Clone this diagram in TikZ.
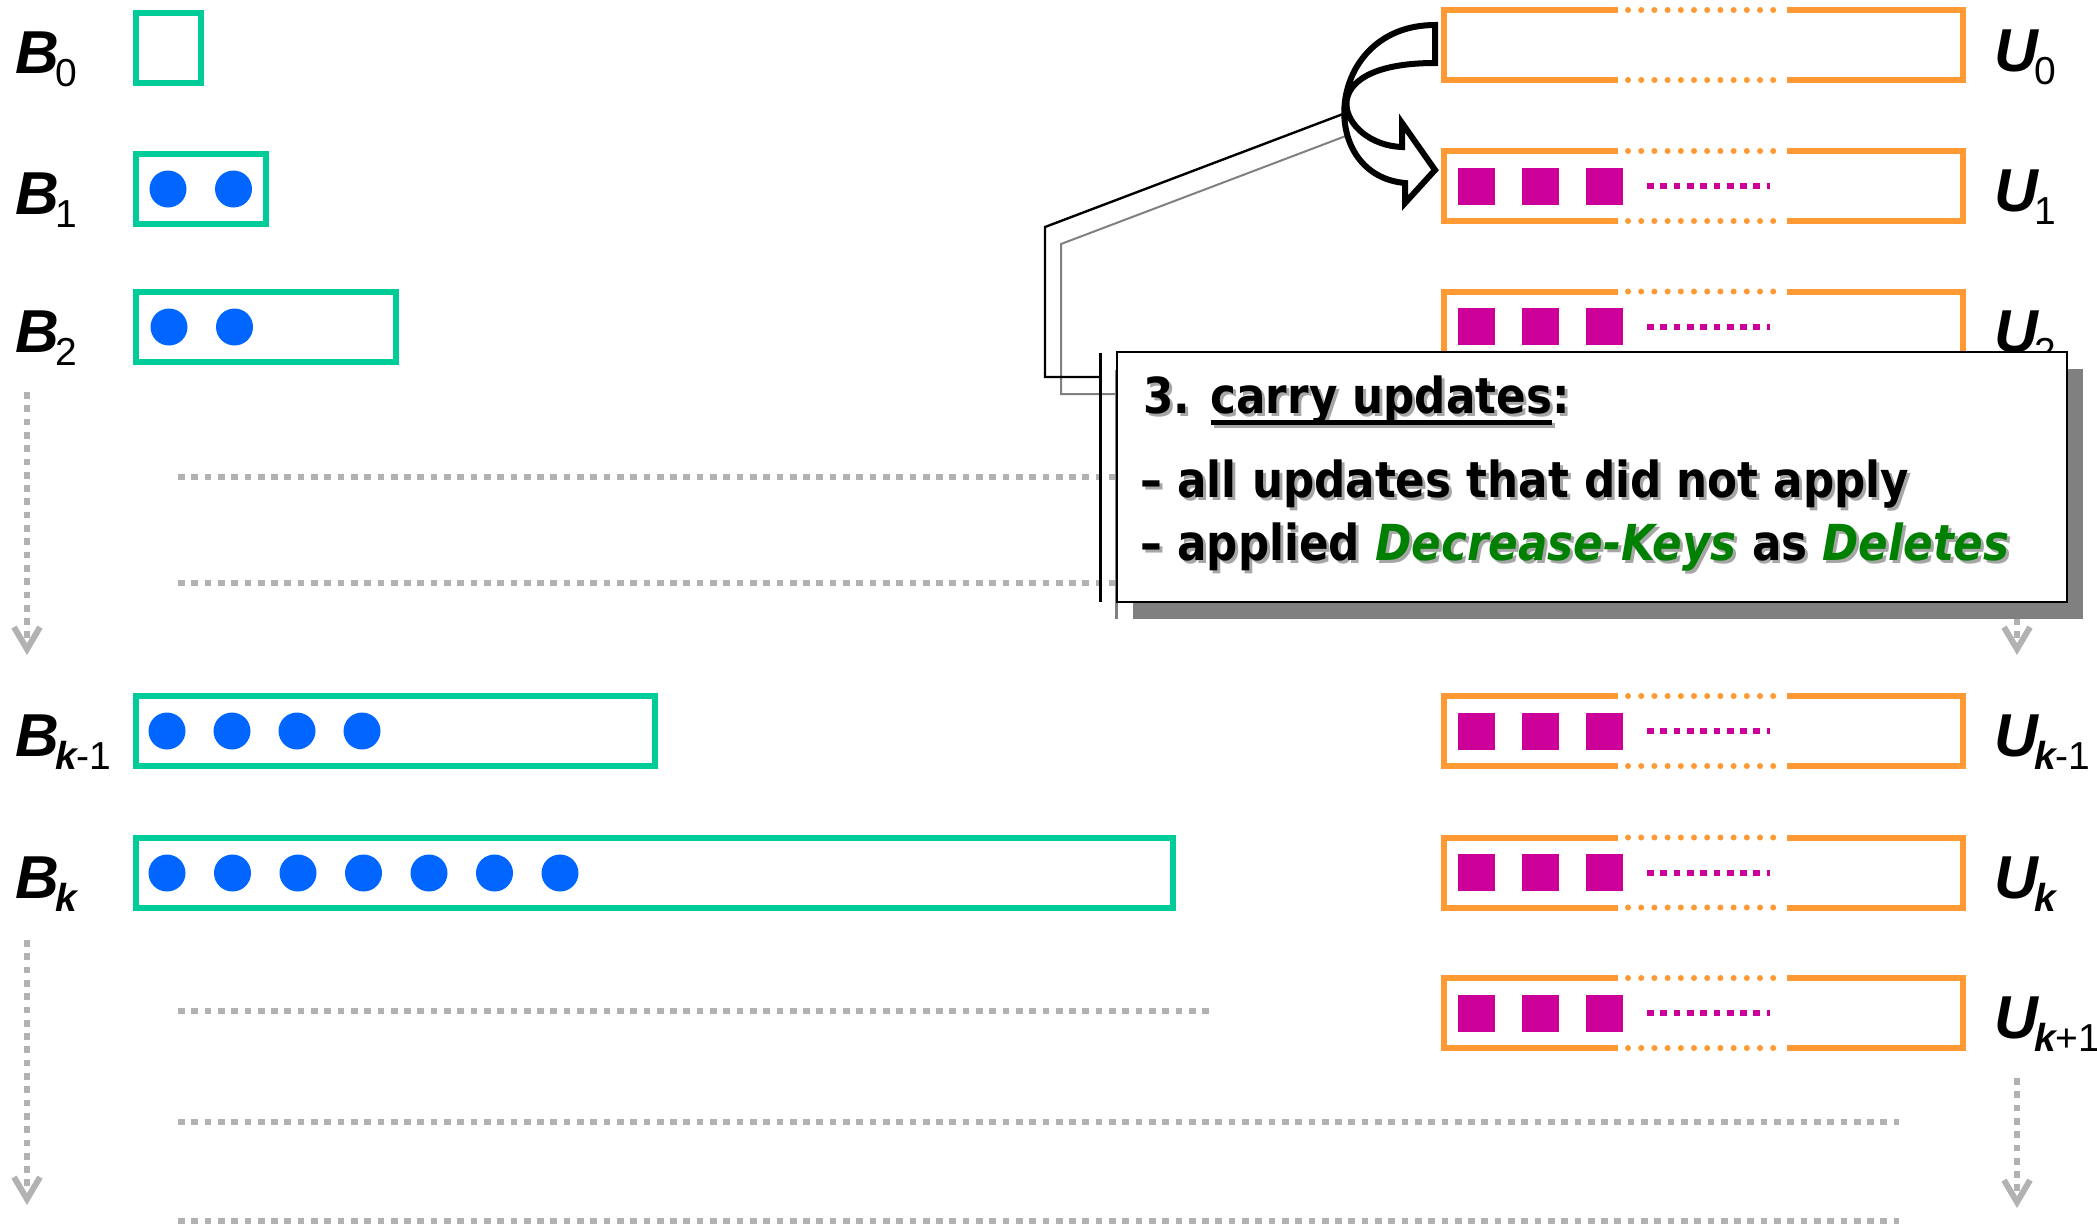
\documentclass[tikz,border=0pt]{standalone}
\usepackage{fontspec}
\usetikzlibrary{arrows.meta,calc}
\newfontfamily\lfont{Liberation Sans}
\newfontfamily\cfont[FakeStretch=0.88]{DejaVu Sans}
\definecolor{bgreen}{HTML}{00CC99}
\definecolor{bblue}{HTML}{0066FF}
\definecolor{uorange}{HTML}{FF9933}
\definecolor{umag}{HTML}{CC0099}
\definecolor{dgray}{HTML}{B2B2B2}
\definecolor{shgray}{HTML}{808080}
\definecolor{kgreen}{HTML}{008000}
\definecolor{tshadow}{HTML}{A6A6A6}
\newcommand\lblsub[1]{\kern-2pt\raisebox{-6.5pt}{\fontsize{19.5}{20}\selectfont\mdseries\upshape #1}}
\newcommand\kwcolor{\color{kgreen}}
\newcommand\kw[1]{{\itshape\kwcolor #1}}
\newcommand\cul[1]{\setbox0\hbox{#1}\rlap{\rule[-6pt]{\wd0}{2.5pt}}\box0}
\newcommand\shad[1]{\rlap{\kern1.5pt\raisebox{-1.5pt}{\color{tshadow}\def\kwcolor{}#1}}{#1}}
\tikzset{
  bbox/.style={draw=bgreen,line width=2.75pt,inner sep=0pt,outer sep=0pt,minimum height=35pt},
  bdot/.style={circle,fill=bblue,inner sep=0pt,minimum size=18.5pt},
  ubox/.style={inner sep=0pt,outer sep=0pt,minimum width=259.5pt,minimum height=35pt},
  uline/.style={draw=uorange,line width=3pt},
  udots/.style={draw=uorange,line width=3pt,line cap=round,dash pattern=on 0pt off 6.6pt},
  usq/.style={fill=umag,inner sep=0pt,minimum size=18.5pt},
  mdots/.style={draw=umag,line width=3pt,dash pattern=on 3.35pt off 3.3pt},
  gdots/.style={draw=dgray,line width=3pt,dash pattern=on 3.35pt off 3.3pt},
  garrow/.style={gdots,-{Straight Barb[length=11pt,width=13pt]}},
  lbl/.style={anchor=base west,inner sep=0pt,font=\lfont\bfseries\itshape\fontsize{30.3}{32}\selectfont},
  ctext/.style={anchor=base west,inner sep=0pt,font=\cfont\bfseries\fontsize{24.8}{30}\selectfont},
}
\newcommand\urow[2]{%
  \node[ubox] (#1) at (1703.5,#2) {};
  \draw[uline] ([xshift=87pt]#1.north west) -- (#1.north west) -- (#1.south west) -- ([xshift=87pt]#1.south west);
  \draw[uline] ([xshift=-88pt]#1.north east) -- (#1.north east) -- (#1.south east) -- ([xshift=-88pt]#1.south east);
  \draw[udots] ([xshift=92pt]#1.north west) -- ([xshift=-90.5pt]#1.north east);
  \draw[udots] ([xshift=92pt]#1.south west) -- ([xshift=-90.5pt]#1.south east);
}
\newcommand\uitems[1]{%
  \node[usq] (#1a) at ([xshift=16.25pt]#1.west) {};
  \node[usq] (#1b) at ([xshift=48.25pt]#1.west) {};
  \node[usq] (#1c) at ([xshift=80.25pt]#1.west) {};
  \draw[mdots] ([xshift=101.5pt]#1.west) -- ([xshift=163pt]#1.west);
}
\begin{document}
\begin{tikzpicture}[x=0.5pt,y=-0.5pt]
\useasboundingbox (0,0) rectangle (2097,1228);
% background dotted lines and arrows
\coordinate (h1s) at (178,477); \coordinate (h1e) at (1899,477);
\coordinate (h2s) at (178,583); \coordinate (h2e) at (1899,583);
\coordinate (h3s) at (178,1011); \coordinate (h3e) at (1212,1011);
\coordinate (h4s) at (178,1122); \coordinate (h4e) at (1899,1122);
\coordinate (h5s) at (178,1221); \coordinate (h5e) at (1899,1221);
\foreach \i in {1,...,5} \draw[gdots] (h\i s) -- (h\i e);
\coordinate (la1s) at (27,392); \coordinate (la1e) at (27,655);
\coordinate (la2s) at (27,940); \coordinate (la2e) at (27,1205);
\coordinate (ra1s) at (2017,392); \coordinate (ra1e) at (2017,655);
\coordinate (ra2s) at (2017,1078); \coordinate (ra2e) at (2017,1208);
\draw[garrow] (la1s) -- (la1e);
\draw[garrow] (la2s) -- (la2e);
\draw[garrow] (ra1s) -- (ra1e);
\draw[garrow] (ra2s) -- (ra2e);
% B boxes
\node[bbox,minimum width=32.5pt] (B0) at (168.5,48) {};
\node[bbox,minimum width=65pt] (B1) at (201,189) {};
\node[bbox,minimum width=130pt] (B2) at (266,327) {};
\node[bbox,minimum width=259.5pt] (Bk1) at (395.5,731) {};
\node[bbox,minimum width=518.5pt] (Bk) at (654.5,873) {};
\foreach \j in {0,1} \node[bdot] (b1\j) at (168+65.5*\j,189) {};
\foreach \j in {0,1} \node[bdot] (b2\j) at (169+65.5*\j,327) {};
\foreach \j in {0,...,3} \node[bdot] (bk1\j) at (167+65*\j,731) {};
\foreach \j in {0,...,6} \node[bdot] (bk\j) at (167+65.5*\j,873) {};
% B labels
\node[lbl] (lB0) at (15,73) {B\lblsub{0}};
\node[lbl] (lB1) at (15,214) {B\lblsub{1}};
\node[lbl] (lB2) at (15,352) {B\lblsub{2}};
\node[lbl] (lBk1) at (15,756) {B\lblsub{{\bfseries\itshape k}-1}};
\node[lbl] (lBk) at (15,898) {B\lblsub{\bfseries\itshape k}};
% U boxes
\urow{U0}{45}
\urow{U1}{186}
\urow{U2}{326.5}
\urow{Uk1}{731}
\urow{Uk}{872.5}
\urow{Ukp}{1013}
\uitems{U1}
\uitems{U2}
\uitems{Uk1}
\uitems{Uk}
\uitems{Ukp}
% U labels
\node[lbl] (lU0) at (1994,71) {U\lblsub{0}};
\node[lbl] (lU1) at (1994,211) {U\lblsub{1}};
\node[lbl] (lU2) at (1994,352) {U\lblsub{2}};
\node[lbl] (lUk1) at (1994,756) {U\lblsub{{\bfseries\itshape k}-1}};
\node[lbl] (lUk) at (1994,898) {U\lblsub{\bfseries\itshape k}};
\node[lbl] (lUkp) at (1994,1038) {U\lblsub{{\bfseries\itshape k}+1}};
% callout shadow
\coordinate (sp1) at (1359,131); \coordinate (sp2) at (1061,244);
\coordinate (sp3) at (1061,394); \coordinate (sp4) at (1116,394);
\coordinate (sb1) at (1116,370); \coordinate (sb2) at (1116,619);
\fill[shgray] (1133,369) rectangle (2083,619);
\draw[shgray,line width=1pt] (sp1) -- (sp2) -- (sp3) -- (sp4);
\draw[shgray,line width=1.5pt] (sb1) -- (sb2);
% callout
\coordinate (cp1) at (1343,114); \coordinate (cp2) at (1045,227);
\coordinate (cp3) at (1045,377); \coordinate (cp4) at (1100,377);
\coordinate (cb1) at (1100,353); \coordinate (cb2) at (1100,602);
\draw[black,line width=1.2pt] (cp1) -- (cp2) -- (cp3) -- (cp4);
\draw[black,line width=1.5pt] (cb1) -- (cb2);
\node[draw=black,fill=white,line width=1.25pt,inner sep=0pt,minimum width=475pt,minimum height=125pt] (callout) at (1592,477) {};
\node[ctext] (t1) at (1143,413) {\shad{3. \cul{carry updates}:}};
\node[ctext] (t2) at (1140,497) {\shad{– all updates that did not apply}};
\node[ctext] (t3) at (1140,560) {\shad{– applied \kw{Decrease-Keys} as \kw{Deletes}}};
% curved arrow from U0 to U1
\draw[black,line width=3pt,fill=white,line join=miter]
  (1435,25) .. controls (1325,25) and (1315,175) .. (1405,183)
  -- (1405,203) -- (1435,170) -- (1402,123) -- (1402,147)
  .. controls (1340,145) and (1305,63) .. (1435,63) -- cycle;
\end{tikzpicture}
\end{document}
